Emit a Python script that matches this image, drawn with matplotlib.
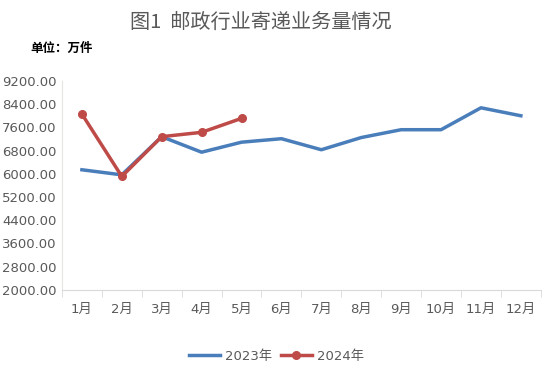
import matplotlib

matplotlib.use("Agg")
import matplotlib.pyplot as plt

plt.rcParams["font.family"] = ["DejaVu Sans", "Noto Sans CJK SC"]

months = ["1月", "2月", "3月", "4月", "5月", "6月", "7月", "8月", "9月", "10月", "11月", "12月"]
vol_2023 = [6140, 5965, 7280, 6745, 7090, 7210, 6830, 7250, 7520, 7520, 8275, 8000]
vol_2024 = [8060, 5910, 7280, 7430, 7910]
yticks = [2000, 2800, 3600, 4400, 5200, 6000, 6800, 7600, 8400, 9200]

blue = "#4a7ebb"
red = "#be4b48"
grey = "#595959"

fig = plt.figure(figsize=(5.53, 3.8), dpi=100)
ax = fig.add_axes([0.112, 0.237, 0.866, 0.55])

x23 = range(len(vol_2023))
x24 = range(len(vol_2024))
ax.plot(x23, vol_2023, color=blue, lw=2.5, label="2023年")
ax.plot(x24, vol_2024, color=red, lw=2.5, marker="o", ms=5.5, label="2024年")

ax.set_xlim(-0.5, len(months) - 0.5)
ax.set_ylim(yticks[0], yticks[-1])
ax.set_yticks(yticks)
ax.set_yticklabels([f"{v:.2f}" for v in yticks], color=grey, fontsize=9.5)
ax.set_xticks(range(len(months)))
ax.set_xticklabels(months, color=grey, fontsize=9.5)
ax.set_xticks([i - 0.5 for i in range(len(months) + 1)], minor=True)
ax.tick_params(axis="x", which="major", length=0, pad=9)
ax.tick_params(axis="x", which="minor", length=5, color="#d9d9d9", direction="out")
ax.tick_params(axis="y", length=0, pad=4)

for side in ["top", "right"]:
    ax.spines[side].set_visible(False)
ax.spines["left"].set_color("#e6e6e0")
ax.spines["bottom"].set_color("#d9d9d9")

fig.text(0.472, 0.94, "图1  邮政行业寄递业务量情况", ha="center", va="center",
         fontsize=14.5, color=grey, family=["Noto Sans CJK SC"])
fig.text(0.055, 0.873, "单位：万件", ha="left", va="center", fontsize=9,
         fontweight="bold", color="black", family=["Noto Sans CJK SC"])

fig.legend(loc="center", bbox_to_anchor=(0.5, 0.062), ncol=2, frameon=False,
           fontsize=9.5, labelcolor=grey, handlelength=2.4, columnspacing=0.6,
           handletextpad=0.4)

fig.savefig("out.png", dpi=100)
